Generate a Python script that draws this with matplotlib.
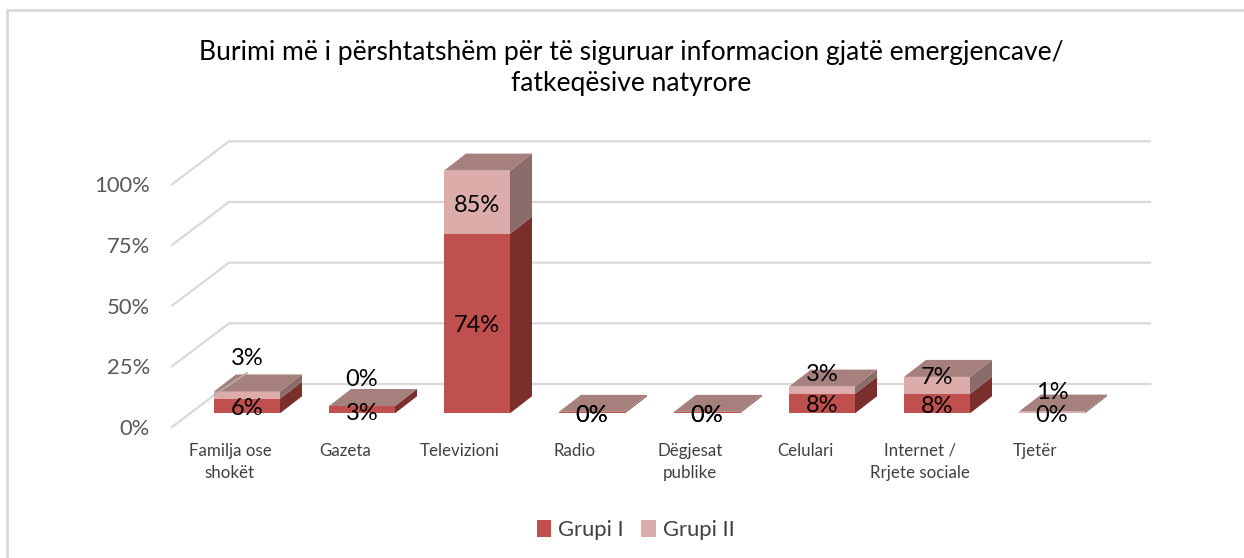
import matplotlib
matplotlib.use("Agg")
import matplotlib.pyplot as plt
from matplotlib.patches import Patch, Polygon

plt.rcParams['font.family'] = ['Lato', 'DejaVu Sans']

title = "Burimi më i përshtatshëm për të siguruar informacion gjatë emergjencave/\nfatkeqësive natyrore"
categories = ["Familja ose\nshokët", "Gazeta", "Televizioni", "Radio", "Dëgjesat\npublike",
              "Celulari", "Internet /\nRrjete sociale", "Tjetër"]
grupi_1 = [6, 3, 74, 0.4, 0.4, 8, 8, 0.1]
grupi_2 = [3, 0, 85, 0.2, 0.2, 3, 7, 0.6]
ticks = [0, 25, 50, 75, 100]
series_names = ["Grupi I", "Grupi II"]

# where the data labels sit (percent units), they were moved by hand in the original
label_y_1 = [2.6, 0.6, 37, 0, 0, 3.9, 3.5, 0]
label_y_2 = [23.2, 14.6, 86.5, 0, 0, 17, 15.4, 9.6]

W, H = 1244, 558
X0, STEP = 247, 115      # px of first bar centre, px per category
Y0, PX = 413.3, 2.427    # px of value 0 on the bars, px per percent
TEXT_SHIFT = 2 / PX      # va="center" comes out a bit high

fig = plt.figure(figsize=(W / 100, H / 100), dpi=100)
ax = fig.add_axes([0, 0, 1, 1])
ax.set_xlim(-X0 / STEP, (W - X0) / STEP)
ax.set_ylim((Y0 - H) / PX, Y0 / PX)
ax.axis("off")

bar_w = 66 / STEP
dx, dy = 22 / STEP, 17 / PX
wall_front_x = (172 - X0) / STEP
wall_back_x = (229 - X0) / STEP
wall_right_x = (1150 - X0) / STEP
wall_front_y = (Y0 - 427) / PX
wall_back_y = (Y0 - 384) / PX

# walls and ticks
for t in ticks:
    ax.plot([wall_front_x, wall_back_x, wall_right_x],
            [wall_front_y + t, wall_back_y + t, wall_back_y + t],
            color="#D9D9D9", lw=1.6, zorder=1, solid_joinstyle="miter")
    ax.text((150 - X0) / STEP, wall_front_y + t - TEXT_SHIFT, f"{t}%", ha="right", va="center",
            fontsize=15.8, color="#595959")

FRONT = ["#C0504D", "#DBACAA"]
SIDE = ["#7A2F2D", "#8A6C6A"]
TOP = "#A5807C"


def cuboid(x, low, high, i):
    left, right = x - bar_w / 2, x + bar_w / 2
    ax.add_patch(Polygon([(left, low), (right, low), (right, high), (left, high)],
                         fc=FRONT[i], ec="none", zorder=3))
    ax.add_patch(Polygon([(right, low), (right + dx, low + dy), (right + dx, high + dy), (right, high)],
                         fc=SIDE[i], ec="none", zorder=3))


for k in range(len(categories)):
    a = min(grupi_1[k], 100)
    b = min(grupi_1[k] + grupi_2[k], 100)   # stack is cut off at the axis maximum
    cuboid(k, 0, a, 0)
    cuboid(k, a, b, 1)
    left, right = k - bar_w / 2, k + bar_w / 2
    ax.add_patch(Polygon([(left, b), (right, b), (right + dx, b + dy), (left + dx, b + dy)],
                         fc=TOP, ec="none", zorder=3))
    ax.text(k, label_y_1[k] - TEXT_SHIFT, f"{grupi_1[k]:.0f}%", ha="center", va="center",
            fontsize=17, color="black", zorder=5)
    ax.text(k, label_y_2[k] - TEXT_SHIFT, f"{grupi_2[k]:.0f}%", ha="center", va="center",
            fontsize=17, color="black", zorder=5)
    ax.text(k - 17 / STEP, (Y0 - 443) / PX, categories[k], ha="center", va="top",
            fontsize=12.2, color="#404040", linespacing=1.45)

# leader line of the first label
ax.plot([-bar_w / 2, 0], [(Y0 - 395) / PX, (Y0 - 373) / PX], color="#B0B0B0", lw=1.2, zorder=4)

ax.text((631 - X0) / STEP, (Y0 - 68) / PX, title, ha="center", va="center", fontsize=19.1,
        color="black", linespacing=1.3)

handles = [Patch(fc=FRONT[0]), Patch(fc=FRONT[1])]
ax.legend(handles, series_names, loc="center", bbox_to_anchor=(635.5 / W, 1 - 530 / H), ncol=2,
          frameon=False, fontsize=15.8, labelcolor="#404040", handlelength=0.68, handleheight=0.85,
          handletextpad=0.3, columnspacing=0.8)

# chart frame
ax.plot([(7.5 - X0) / STEP, (7.5 - X0) / STEP, (W - X0) / STEP],
        [(Y0 - H) / PX, (Y0 - 10) / PX, (Y0 - 10) / PX], color="#D9D9D9", lw=2)

fig.savefig("out.png", dpi=100)
